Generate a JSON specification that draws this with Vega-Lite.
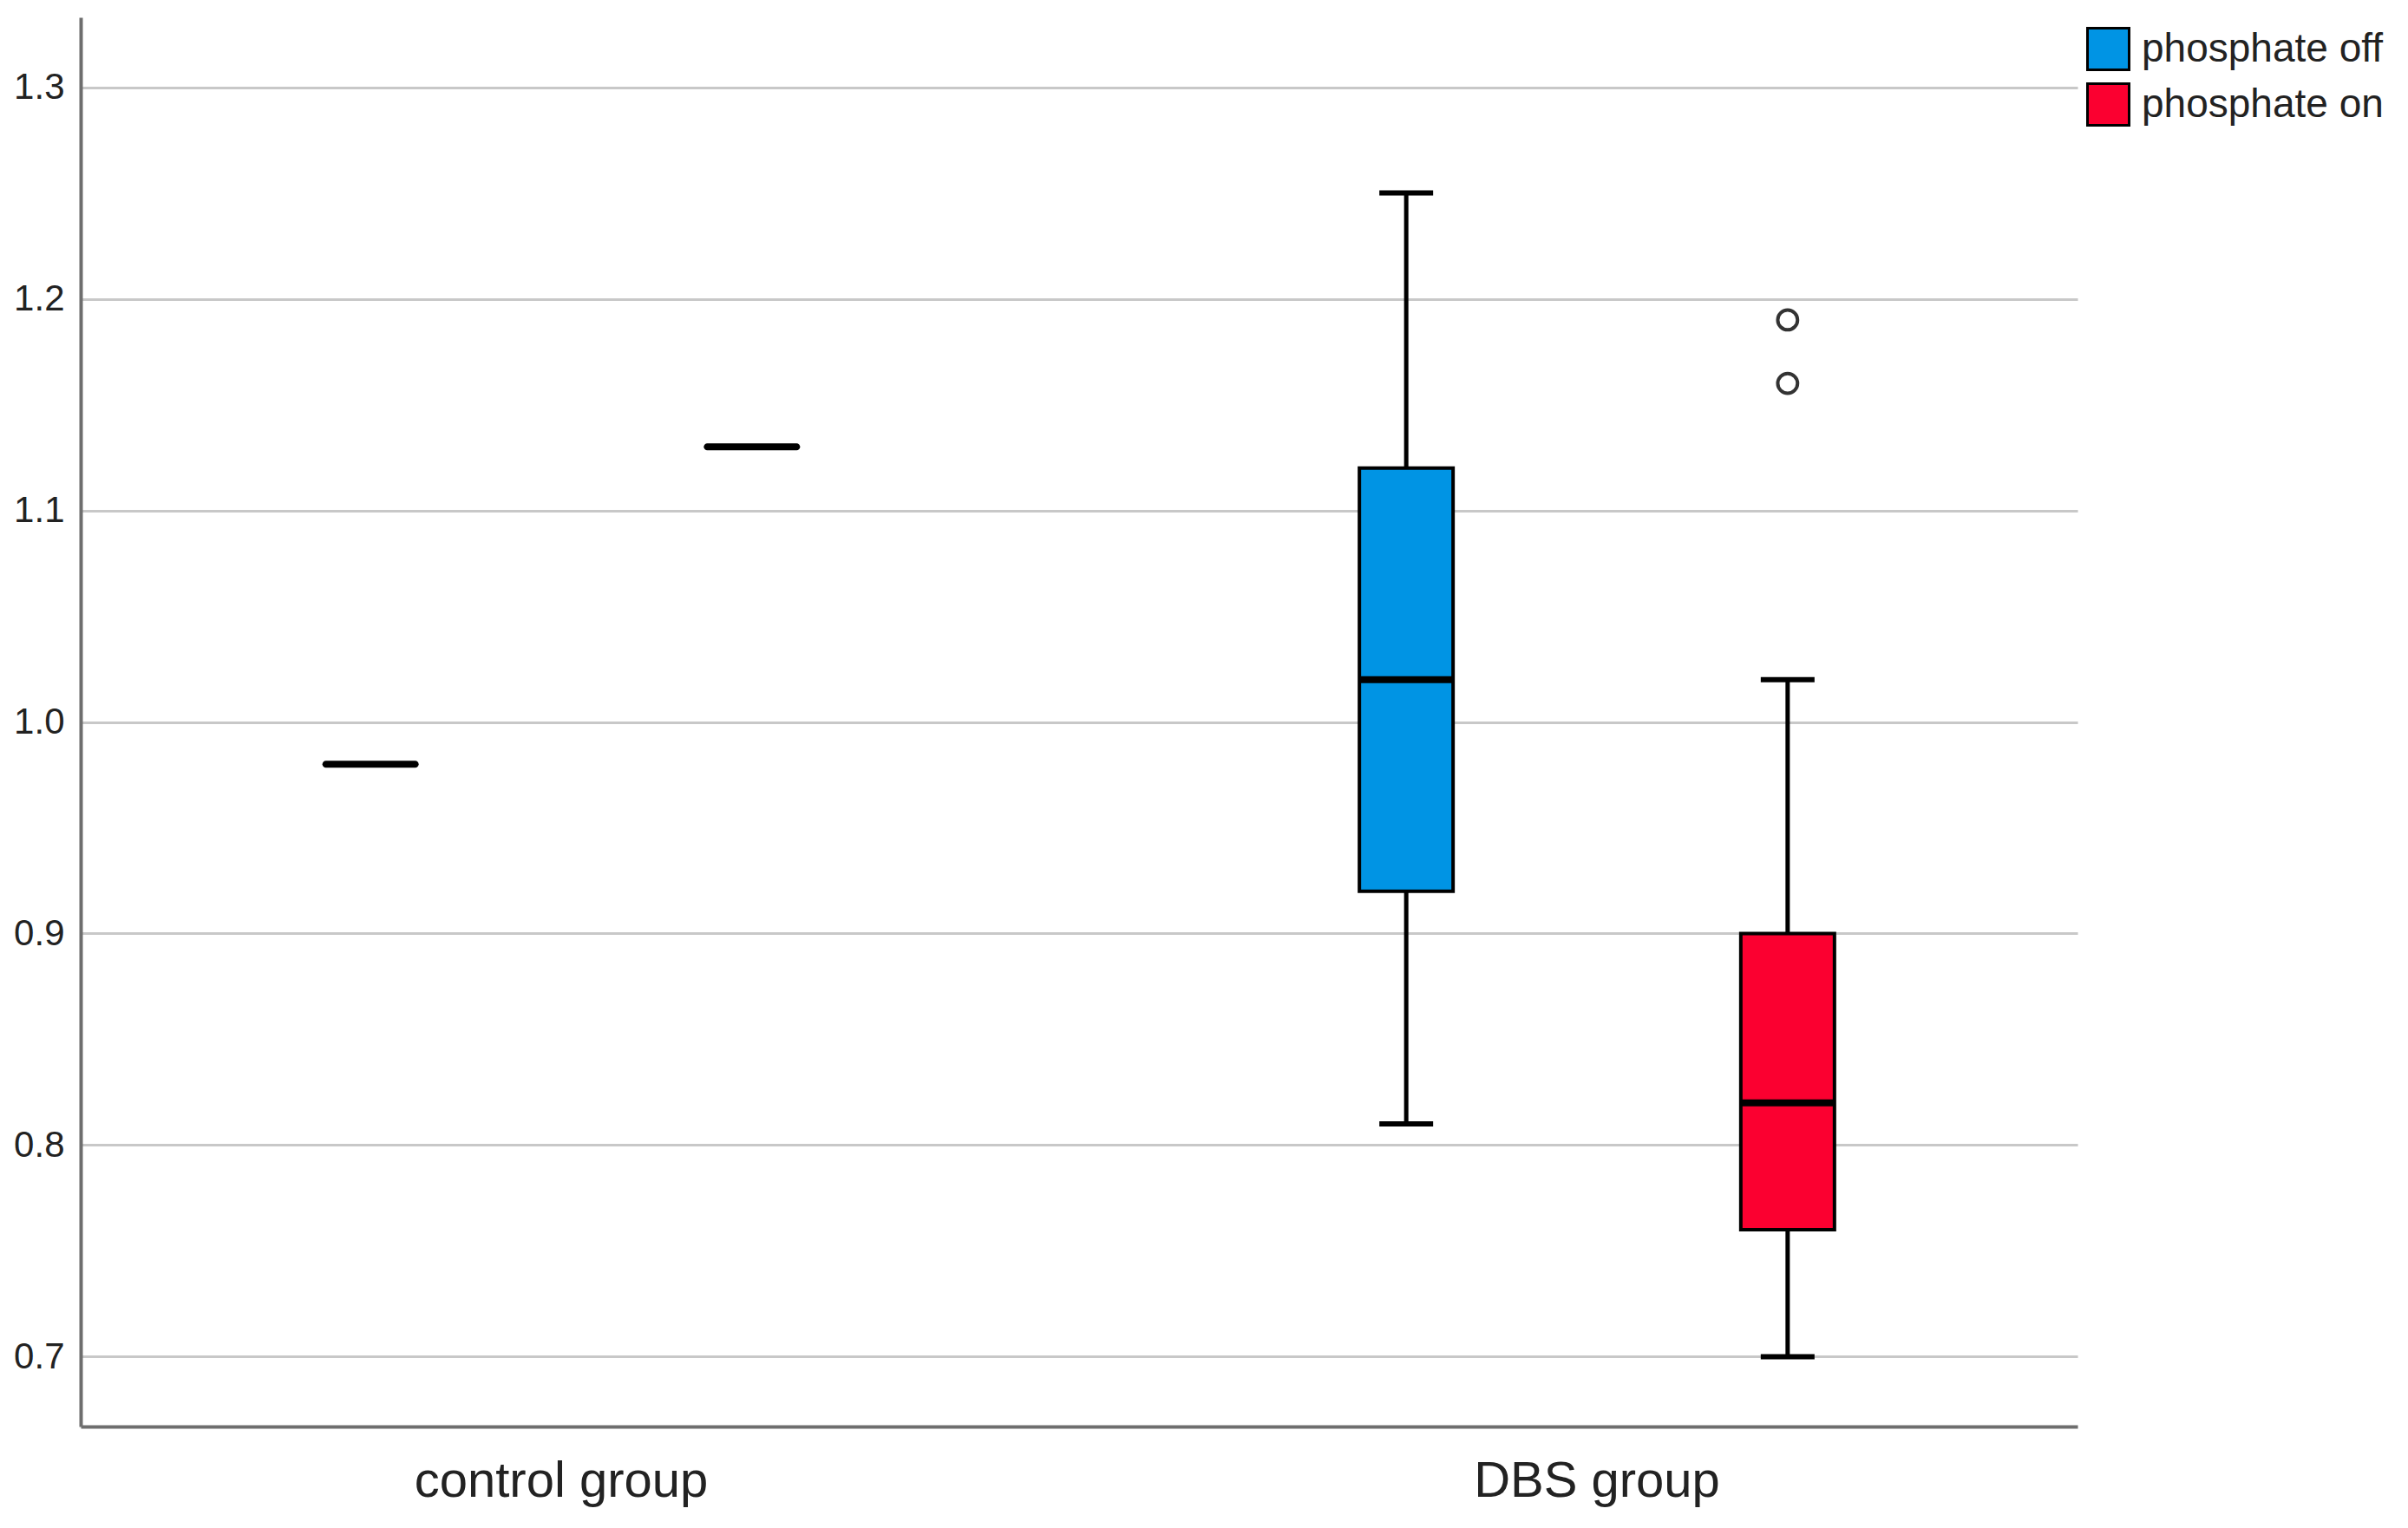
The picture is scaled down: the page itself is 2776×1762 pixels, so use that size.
{
  "$schema": "https://vega.github.io/schema/vega-lite/v6.json",
  "width": 2302,
  "height": 1625,
  "autosize": {"type": "none"},
  "padding": {"left": 93, "top": 20, "right": 381, "bottom": 117},
  "background": "white",
  "config": {"view": {"stroke": null}, "font": "Liberation Sans"},
  "datasets": {
    "stats": [
      {"group": "control group", "phosphate": "phosphate off", "median": 0.98},
      {"group": "control group", "phosphate": "phosphate on", "median": 1.13},
      {"group": "DBS group", "phosphate": "phosphate off", "lo": 0.81, "q1": 0.92, "median": 1.02, "q3": 1.12, "hi": 1.25},
      {"group": "DBS group", "phosphate": "phosphate on", "lo": 0.70, "q1": 0.76, "median": 0.82, "q3": 0.90, "hi": 1.02}
    ],
    "outliers": [
      {"group": "DBS group", "phosphate": "phosphate on", "value": 1.19},
      {"group": "DBS group", "phosphate": "phosphate on", "value": 1.16}
    ]
  },
  "data": {"name": "stats"},
  "encoding": {
    "x": {
      "field": "group", "type": "nominal", "sort": ["control group", "DBS group"],
      "scale": {"paddingInner": 0.072, "paddingOuter": 0},
      "axis": {"title": null, "labelAngle": 0, "ticks": false, "grid": false, "domainColor": "#6e6e6e", "domainWidth": 4, "labelFontSize": 58, "labelPadding": 34, "labelColor": "#222222", "labelLimit": 0}
    },
    "xOffset": {
      "field": "phosphate", "type": "nominal", "sort": ["phosphate off", "phosphate on"],
      "scale": {"paddingInner": 0, "paddingOuter": 0.26}
    }
  },
  "layer": [
    {
      "transform": [{"filter": {"field": "group", "equal": "DBS group"}}],
      "mark": {"type": "rule", "color": "black", "strokeWidth": 5},
      "encoding": {
        "y": {
          "field": "lo", "type": "quantitative",
          "scale": {"domain": [0.667, 1.333], "nice": false, "zero": false},
          "axis": {"title": null, "values": [0.7, 0.8, 0.9, 1.0, 1.1, 1.2, 1.3], "format": ".1f", "grid": true, "gridColor": "#c8c8c8", "gridWidth": 3, "ticks": false, "domainColor": "#6e6e6e", "domainWidth": 4, "labelFontSize": 42, "labelPadding": 19, "labelColor": "#222222", "labelLimit": 0}
        },
        "y2": {"field": "hi"}
      }
    },
    {
      "transform": [{"filter": {"field": "group", "equal": "DBS group"}}],
      "mark": {"type": "tick", "color": "black", "size": 62, "thickness": 6, "opacity": 1},
      "encoding": {"y": {"field": "lo", "type": "quantitative"}}
    },
    {
      "transform": [{"filter": {"field": "group", "equal": "DBS group"}}],
      "mark": {"type": "tick", "color": "black", "size": 62, "thickness": 6, "opacity": 1},
      "encoding": {"y": {"field": "hi", "type": "quantitative"}}
    },
    {
      "transform": [{"filter": {"field": "group", "equal": "DBS group"}}],
      "mark": {"type": "bar", "width": 108, "stroke": "black", "strokeWidth": 4, "opacity": 1},
      "encoding": {
        "y": {"field": "q1", "type": "quantitative"},
        "y2": {"field": "q3"},
        "color": {
          "field": "phosphate", "type": "nominal",
          "scale": {"domain": ["phosphate off", "phosphate on"], "range": ["#0094E4", "#FB0030"]},
          "legend": {"title": null, "orient": "none", "legendX": 2312, "legendY": 11, "symbolType": "square", "symbolSize": 2304, "symbolStrokeColor": "black", "symbolStrokeWidth": 3, "symbolOpacity": 1, "labelFontSize": 46, "labelOffset": 13, "rowPadding": 3, "labelColor": "#222222", "labelLimit": 0}
        }
      }
    },
    {
      "transform": [{"filter": {"field": "group", "equal": "DBS group"}}],
      "mark": {"type": "tick", "color": "black", "size": 106, "thickness": 8, "opacity": 1},
      "encoding": {"y": {"field": "median", "type": "quantitative"}}
    },
    {
      "transform": [{"filter": {"field": "group", "equal": "control group"}}],
      "mark": {"type": "tick", "color": "black", "size": 111, "thickness": 8, "cornerRadius": 4, "opacity": 1},
      "encoding": {"y": {"field": "median", "type": "quantitative"}}
    },
    {
      "data": {"name": "outliers"},
      "mark": {"type": "point", "shape": "circle", "filled": false, "stroke": "#333333", "strokeWidth": 4, "size": 520, "opacity": 1},
      "encoding": {"y": {"field": "value", "type": "quantitative"}}
    }
  ]
}
